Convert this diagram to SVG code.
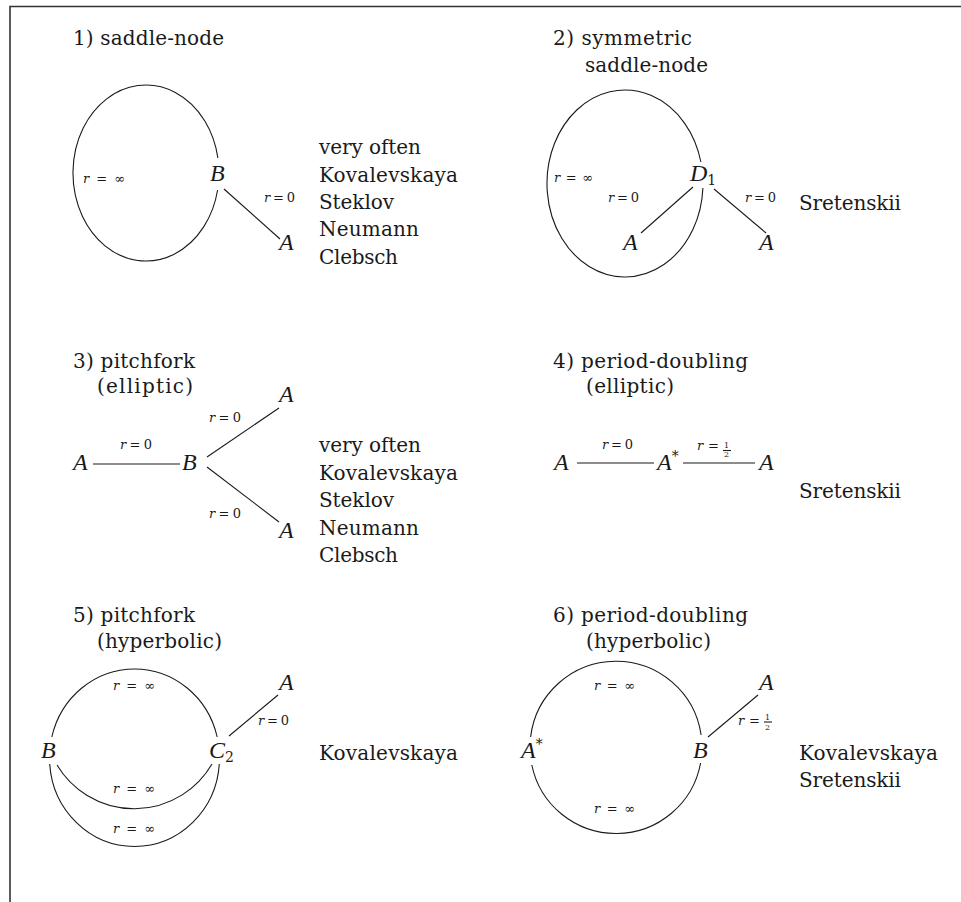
<svg xmlns="http://www.w3.org/2000/svg" width="961" height="902" viewBox="0 0 961 902">
<style>
  text { font-family: "DejaVu Serif", serif; }
  .t { font-size: 20px; fill: #1a1a1a; }
  .m { font-family: "Liberation Serif", "DejaVu Serif", serif; font-size: 24px; font-style: italic; fill: #1a1a1a; }
  .s { font-size: 13px; fill: #1a1a1a; }
  .sub { font-family: "DejaVu Serif", serif; font-size: 14px; font-style: normal; }
  .fr { font-size: 8px; fill: #1a1a1a; }
  .e { fill: none; stroke: #1a1a1a; stroke-width: 1.1; }
  .frame { fill: none; stroke: #333; stroke-width: 1.6; }
</style>
<rect x="0" y="0" width="961" height="902" fill="#fff"/>
<path class="frame" d="M10 902 V6.5 H961"/>

<g id="connectors">
  <path class="e" d="M217.9 158 A73 88 0 1 0 217.6 190"/>
  <line class="e" x1="224" y1="189" x2="280" y2="239"/>
  <path class="e" d="M700.9 162 A78 93.5 0 1 0 702.9 188"/>
  <line class="e" x1="693" y1="187" x2="641" y2="233"/>
  <line class="e" x1="714" y1="189" x2="766" y2="233"/>
  <line class="e" x1="93" y1="464" x2="180" y2="464"/>
  <line class="e" x1="207" y1="457" x2="279" y2="408"/>
  <line class="e" x1="207" y1="467" x2="279" y2="522"/>
  <line class="e" x1="577" y1="463" x2="654" y2="463"/>
  <line class="e" x1="683" y1="463" x2="755" y2="463"/>
  <path class="e" d="M51.8 737 A85 88.5 0 0 1 217.2 737"/>
  <path class="e" d="M49.7 764 A85 88.5 0 0 0 219.3 764"/>
  <path class="e" d="M57 765 A90 90 0 0 0 212 764"/>
  <line class="e" x1="229" y1="736" x2="278" y2="695"/>
  <path class="e" d="M530.6 737 A86 86 0 0 1 701.1 735"/>
  <path class="e" d="M531.8 765 A86 86 0 0 0 700.6 763"/>
  <line class="e" x1="708" y1="737" x2="758" y2="695"/>
</g>

<g id="panel1">
  <text class="t" x="73" y="45" textLength="151">1) saddle-node</text>
  <g id="p1-B"><text class="m" x="210" y="181">B</text></g>
  <g id="p1-A"><text class="m" x="279" y="250">A</text></g>
  <text class="s" x="83" y="183" textLength="42"><tspan font-style="italic">r</tspan>=∞</text>
  <text class="s" x="264" y="202" textLength="31"><tspan font-style="italic">r</tspan>=0</text>
  <text class="t" x="319" y="154" textLength="102">very often</text>
  <text class="t" x="319" y="182" textLength="139">Kovalevskaya</text>
  <text class="t" x="319" y="209" textLength="75">Steklov</text>
  <text class="t" x="319" y="236" textLength="100">Neumann</text>
  <text class="t" x="319" y="264" textLength="79">Clebsch</text>
</g>

<g id="panel2">
  <text class="t" x="553" y="45" textLength="139">2) symmetric</text>
  <text class="t" x="585" y="72" textLength="123">saddle-node</text>
  <g id="p2-D1"><text class="m" x="690" y="181">D<tspan class="sub" dy="4">1</tspan></text></g>
  <g id="p2-A1"><text class="m" x="623" y="250">A</text></g>
  <g id="p2-A2"><text class="m" x="759" y="250">A</text></g>
  <text class="s" x="554" y="182" textLength="39"><tspan font-style="italic">r</tspan>=∞</text>
  <text class="s" x="608" y="202" textLength="31"><tspan font-style="italic">r</tspan>=0</text>
  <text class="s" x="745" y="202" textLength="31"><tspan font-style="italic">r</tspan>=0</text>
  <text class="t" x="799" y="210" textLength="102">Sretenskii</text>
</g>

<g id="panel3">
  <text class="t" x="73" y="368" textLength="122">3) pitchfork</text>
  <text class="t" x="97" y="393" textLength="96">(elliptic)</text>
  <g id="p3-A0"><text class="m" x="73" y="470">A</text></g>
  <g id="p3-B"><text class="m" x="182" y="470">B</text></g>
  <g id="p3-A1"><text class="m" x="279" y="402">A</text></g>
  <g id="p3-A2"><text class="m" x="279" y="538">A</text></g>
  <text class="s" x="120" y="449" textLength="32"><tspan font-style="italic">r</tspan>=0</text>
  <text class="s" x="209" y="422" textLength="32"><tspan font-style="italic">r</tspan>=0</text>
  <text class="s" x="209" y="518" textLength="32"><tspan font-style="italic">r</tspan>=0</text>
  <text class="t" x="319" y="452" textLength="102">very often</text>
  <text class="t" x="319" y="480" textLength="139">Kovalevskaya</text>
  <text class="t" x="319" y="507" textLength="75">Steklov</text>
  <text class="t" x="319" y="535" textLength="100">Neumann</text>
  <text class="t" x="319" y="562" textLength="79">Clebsch</text>
</g>

<g id="panel4">
  <text class="t" x="553" y="368" textLength="195">4) period-doubling</text>
  <text class="t" x="586" y="393" textLength="88">(elliptic)</text>
  <g id="p4-A0"><text class="m" x="554" y="470">A</text></g>
  <g id="p4-As"><text class="m" x="657" y="470">A<tspan class="sub" dy="-9">*</tspan></text></g>
  <g id="p4-A1"><text class="m" x="759" y="470">A</text></g>
  <text class="s" x="602" y="449" textLength="31"><tspan font-style="italic">r</tspan>=0</text>
  <text class="s" x="697" y="450" textLength="22"><tspan font-style="italic">r</tspan>=</text>
  <text class="fr" x="724" y="448">1</text>
  <line class="e" x1="723" y1="450.5" x2="731" y2="450.5" stroke-width="0.7"/>
  <text class="fr" x="724" y="457">2</text>
  <text class="t" x="799" y="498" textLength="102">Sretenskii</text>
</g>

<g id="panel5">
  <text class="t" x="73" y="622" textLength="122">5) pitchfork</text>
  <text class="t" x="97" y="648" textLength="125">(hyperbolic)</text>
  <g id="p5-B"><text class="m" x="41" y="758">B</text></g>
  <g id="p5-C2"><text class="m" x="209" y="758">C<tspan class="sub" dy="4">2</tspan></text></g>
  <g id="p5-A"><text class="m" x="279" y="690">A</text></g>
  <text class="s" x="113" y="690" textLength="42"><tspan font-style="italic">r</tspan>=∞</text>
  <text class="s" x="113" y="793" textLength="42"><tspan font-style="italic">r</tspan>=∞</text>
  <text class="s" x="113" y="833" textLength="42"><tspan font-style="italic">r</tspan>=∞</text>
  <text class="s" x="258" y="725" textLength="31"><tspan font-style="italic">r</tspan>=0</text>
  <text class="t" x="319" y="760" textLength="139">Kovalevskaya</text>
</g>

<g id="panel6">
  <text class="t" x="553" y="622" textLength="195">6) period-doubling</text>
  <text class="t" x="586" y="648" textLength="125">(hyperbolic)</text>
  <g id="p6-As"><text class="m" x="521" y="758">A<tspan class="sub" dy="-9">*</tspan></text></g>
  <g id="p6-B"><text class="m" x="693" y="758">B</text></g>
  <g id="p6-A"><text class="m" x="759" y="690">A</text></g>
  <text class="s" x="594" y="690" textLength="41"><tspan font-style="italic">r</tspan>=∞</text>
  <text class="s" x="594" y="813" textLength="41"><tspan font-style="italic">r</tspan>=∞</text>
  <text class="s" x="738" y="725" textLength="22"><tspan font-style="italic">r</tspan>=</text>
  <text class="fr" x="765" y="720">1</text>
  <line class="e" x1="764" y1="722" x2="772" y2="722" stroke-width="0.7"/>
  <text class="fr" x="765" y="729.5">2</text>
  <text class="t" x="799" y="760" textLength="139">Kovalevskaya</text>
  <text class="t" x="799" y="787" textLength="102">Sretenskii</text>
</g>
</svg>
